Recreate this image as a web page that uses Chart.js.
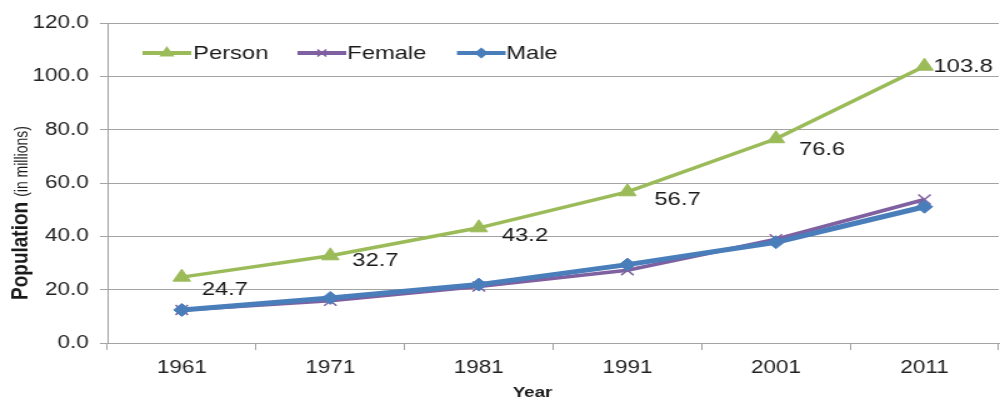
<!DOCTYPE html>
<html><head><meta charset="utf-8">
<script src="https://cdn.jsdelivr.net/npm/chart.js@4"></script>
<style>
html,body{margin:0;padding:0;background:#fff;overflow:hidden;}
#wrap{width:800px;height:401px;transform:scaleX(1.25);transform-origin:0 0;}
canvas{display:block;}
</style></head><body>
<div id="wrap"><canvas id="c" width="800" height="401"></canvas></div>
<script>
// ---- data ----
const years = ['1961', '1971', '1981', '1991', '2001', '2011'];
const person = [24.7, 32.7, 43.2, 56.7, 76.6, 103.8];
const female = [12.4, 15.8, 21.2, 27.3, 38.9, 53.8];
const male = [12.4, 16.9, 21.9, 29.4, 37.8, 51.1];
const yTicks = [0, 20, 40, 60, 80, 100, 120];
const seriesNames = ['Person', 'Female', 'Male'];

// ---- styles ----
const FONT = "'Liberation Sans', Arial, sans-serif";
const C_PERSON = '#9BBB59', C_FEMALE = '#7F60A0', C_MALE = '#4A7EBB';
const GRID = '#A3A3A3';
const labelDx = [16, 17.6, 18.4, 21.6, 18.4, 7.2];
const labelDy = [13, 5, 8, 8, 11, 1];

const extras = {
  id: 'extras',
  afterDatasetsDraw(chart) {
    const ctx = chart.ctx;
    const meta = chart.getDatasetMeta(0);
    ctx.save();
    ctx.font = '19px ' + FONT;
    ctx.fillStyle = '#1a1a1a';
    ctx.textAlign = 'left';
    ctx.textBaseline = 'middle';
    meta.data.forEach((pt, i) => {
      ctx.fillText(person[i].toFixed(1), pt.x + labelDx[i], pt.y + labelDy[i]);
    });
    ctx.restore();
  },
  afterDraw(chart) {
    const ctx = chart.ctx;
    const H = Chart.helpers;
    const items = [
      {name: seriesNames[0], color: C_PERSON, style: 'triangle', r: 5.5, x0: 114, x1: 153, tx: 154.5, lw: 4},
      {name: seriesNames[1], color: C_FEMALE, style: 'crossRot', r: 5, x0: 238, x1: 277, tx: 277.8, lw: 4},
      {name: seriesNames[2], color: C_MALE, style: 'rectRot', r: 4.5, x0: 365.6, x1: 404.5, tx: 405, lw: 4}
    ];
    const ly = 53;
    items.forEach(it => {
      ctx.save();
      ctx.strokeStyle = it.color;
      ctx.lineWidth = it.lw;
      ctx.beginPath();
      ctx.moveTo(it.x0, ly);
      ctx.lineTo(it.x1, ly);
      ctx.stroke();
      ctx.fillStyle = it.color;
      ctx.strokeStyle = it.color;
      ctx.lineWidth = 1.5;
      H.drawPoint(ctx, {pointStyle: it.style, radius: it.r, rotation: 0, borderWidth: 1.5}, (it.x0 + it.x1) / 2, ly);
      ctx.font = '19px ' + FONT;
      ctx.fillStyle = '#1a1a1a';
      ctx.textAlign = 'left';
      ctx.textBaseline = 'middle';
      ctx.fillText(it.name, it.tx, ly + 1);
      ctx.restore();
    });
    ctx.save();
    ctx.translate(21.6, 300);
    ctx.rotate(-Math.PI / 2);
    ctx.fillStyle = '#1a1a1a';
    ctx.textAlign = 'left';
    ctx.textBaseline = 'alphabetic';
    ctx.font = 'bold 19px ' + FONT;
    ctx.fillText('Population', 0, 0);
    const w = ctx.measureText('Population').width;
    ctx.font = '14px ' + FONT;
    ctx.fillText('(in millions)', w + 5, 0);
    ctx.restore();
    ctx.save();
    ctx.font = 'bold 15px ' + FONT;
    ctx.fillStyle = '#1a1a1a';
    ctx.textAlign = 'center';
    ctx.textBaseline = 'alphabetic';
    ctx.fillText('Year', 426, 397);
    ctx.restore();
  }
};

new Chart(document.getElementById('c'), {
  type: 'line',
  data: {
    labels: years,
    datasets: [
      {label: seriesNames[0], data: person, order: 2, borderColor: C_PERSON, backgroundColor: C_PERSON,
       borderWidth: 3.5, pointStyle: 'triangle', pointRadius: 8, pointBorderWidth: 1,
       pointBackgroundColor: C_PERSON, pointBorderColor: C_PERSON, tension: 0},
      {label: seriesNames[1], data: female, order: 1, borderColor: C_FEMALE, backgroundColor: C_FEMALE,
       borderWidth: 3.5, pointStyle: 'crossRot', pointRadius: 7, pointBorderWidth: 1.5,
       pointBorderColor: C_FEMALE, tension: 0},
      {label: seriesNames[2], data: male, order: 0, borderColor: C_MALE, backgroundColor: C_MALE,
       borderWidth: 5, pointStyle: 'rectRot', pointRadius: 6.5, pointBorderWidth: 1,
       pointBackgroundColor: C_MALE, pointBorderColor: C_MALE, tension: 0}
    ]
  },
  options: {
    responsive: false,
    animation: false,
    devicePixelRatio: 1,
    events: [],
    layout: {autoPadding: false, padding: {top: 23, right: 1, left: 0, bottom: 0}},
    plugins: {legend: {display: false}, tooltip: {enabled: false}},
    scales: {
      x: {
        offset: true,
        grid: {display: true, drawOnChartArea: false, offset: true, tickLength: 7, color: GRID},
        border: {color: GRID},
        ticks: {font: {family: FONT, size: 18}, color: '#222', padding: 7, maxRotation: 0},
        afterFit(s) { s.height = 58; s.paddingLeft = 0; s.paddingRight = 0; }
      },
      y: {
        min: 0, max: 120,
        afterBuildTicks(s) { s.ticks = yTicks.map(v => ({value: v})); },
        ticks: {callback: v => Number(v).toFixed(1), font: {family: FONT, size: 18}, color: '#222', padding: 9},
        grid: {color: GRID, tickLength: 6},
        border: {color: GRID},
        afterFit(s) { s.width = 86; s.paddingTop = 0; s.paddingBottom = 0; }
      }
    }
  },
  plugins: [extras]
});
</script>
</body></html>
